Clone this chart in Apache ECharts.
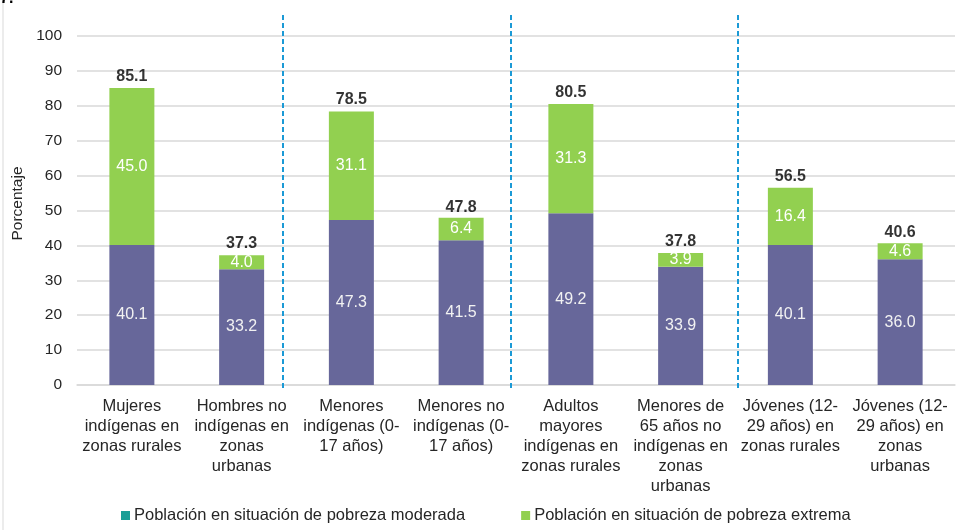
<!DOCTYPE html>
<html>
<head>
<meta charset="utf-8">
<script src="https://cdn.jsdelivr.net/npm/echarts@6/dist/echarts.min.js"></script>
<style>html,body{margin:0;padding:0;background:#fff;}#c{width:961px;height:530px;}</style>
</head>
<body>
<div id="c"></div>
<script>
var categories = [
  "Mujeres\nindígenas en\nzonas rurales",
  "Hombres no\nindígenas en\nzonas\nurbanas",
  "Menores\nindígenas (0-\n17 años)",
  "Menores no\nindígenas (0-\n17 años)",
  "Adultos\nmayores\nindígenas en\nzonas rurales",
  "Menores de\n65 años no\nindígenas en\nzonas\nurbanas",
  "Jóvenes (12-\n29 años) en\nzonas rurales",
  "Jóvenes (12-\n29 años) en\nzonas\nurbanas"
];
var moderada = [40.1, 33.2, 47.3, 41.5, 49.2, 33.9, 40.1, 36.0];
var extrema = [45.0, 4.0, 31.1, 6.4, 31.3, 3.9, 16.4, 4.6];
var totales = [85.1, 37.3, 78.5, 47.8, 80.5, 37.8, 56.5, 40.6];
var separadores = [1.877, 3.954, 6.02];
var yTicks = [0, 100, 10];

var FONT = "'Liberation Sans', Arial, sans-serif";
var chart = echarts.init(document.getElementById('c'), null, {renderer: 'canvas'});

chart.setOption({
  animation: false,
  backgroundColor: '#ffffff',
  textStyle: {fontFamily: FONT},
  grid: [
    {left: 77, right: 6, top: 36, bottom: 145, containLabel: false, outerBoundsMode: 'none'},
    {left: 77, right: 6, top: 14, bottom: 142, containLabel: false, outerBoundsMode: 'none'}
  ],
  legend: {
    left: 116, bottom: 1,
    itemWidth: 9, itemHeight: 9, itemGap: 56,
    textStyle: {fontSize: 16.5, color: '#262626', fontFamily: FONT, padding: [0, 0, 0, -1]},
    data: [
      {name: 'Población en situación de pobreza moderada', icon: 'rect', itemStyle: {color: '#1a9e96'}},
      {name: 'Población en situación de pobreza extrema', icon: 'rect', itemStyle: {color: '#92d050'}}
    ]
  },
  xAxis: [
    {
      type: 'category', data: categories, gridIndex: 0,
      axisTick: {show: false},
      axisLine: {lineStyle: {color: '#d9d9d9', width: 1.5}},
      axisLabel: {interval: 0, fontSize: 16.5, lineHeight: 20, color: '#262626', margin: 11, fontFamily: FONT}
    },
    {type: 'value', gridIndex: 1, min: 0, max: 8, show: false}
  ],
  yAxis: [
    {
      type: 'value', gridIndex: 0, min: yTicks[0], max: yTicks[1], interval: yTicks[2],
      name: 'Porcentaje', nameLocation: 'middle', nameGap: 47, nameRotate: 90,
      nameTextStyle: {fontSize: 15.5, color: '#262626', fontFamily: FONT, padding: [0, 0, 0, 14]},
      axisLine: {show: false}, axisTick: {show: false},
      axisLabel: {fontSize: 15.5, color: '#262626', margin: 15, fontFamily: FONT},
      splitLine: {lineStyle: {color: '#d9d9d9', width: 1.5}}
    },
    {type: 'value', gridIndex: 1, min: 0, max: 1, show: false}
  ],
  graphic: [
    {type: 'line', shape: {x1: 3, y1: 0, x2: 3, y2: 530}, style: {stroke: '#d9d9d9', lineWidth: 1}},
    {type: 'text', left: 0, top: -9, style: {text: '7.', font: 'bold 16px ' + FONT, fill: '#000'}}
  ],
  series: [
    {
      name: 'Población en situación de pobreza moderada',
      type: 'bar', stack: 'a', barWidth: 45,
      xAxisIndex: 0, yAxisIndex: 0,
      itemStyle: {color: '#67679a'},
      label: {show: true, position: 'inside', color: '#f2f2f2', fontSize: 16, fontFamily: FONT,
        formatter: function (p) { return p.value.toFixed(1); }},
      data: moderada
    },
    {
      name: 'Población en situación de pobreza extrema',
      type: 'bar', stack: 'a', barWidth: 45,
      xAxisIndex: 0, yAxisIndex: 0,
      itemStyle: {color: '#92d050'},
      label: {show: true, position: 'inside', color: '#ffffff', fontSize: 16, fontFamily: FONT,
        formatter: function (p) { return p.value.toFixed(1); }},
      data: extrema
    },
    {
      name: 'Total', type: 'scatter', symbolSize: 0,
      xAxisIndex: 0, yAxisIndex: 0, silent: true,
      label: {show: true, position: 'top', distance: 3, color: '#000000', fontSize: 16, fontWeight: 'bold', fontFamily: FONT,
        formatter: function (p) { return p.value.toFixed(1); }},
      data: totales
    },
    {
      name: 'sep', type: 'scatter', xAxisIndex: 1, yAxisIndex: 1, data: [], silent: true,
      markLine: {
        symbol: 'none', silent: true, label: {show: false},
        lineStyle: {color: '#1b9ad6', width: 2, type: [5, 3]},
        data: separadores.map(function (x) { return [{coord: [x, 0]}, {coord: [x, 1]}]; })
      }
    }
  ]
});
</script>
</body>
</html>
